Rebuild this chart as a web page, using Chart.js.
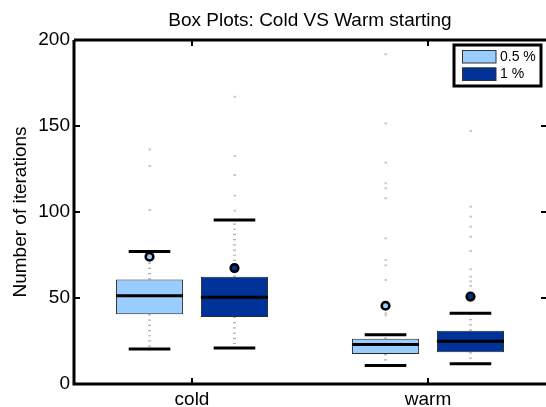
<!DOCTYPE html>
<html>
<head>
<meta charset="utf-8">
<script src="https://cdn.jsdelivr.net/npm/chart.js@4.4.1/dist/chart.umd.min.js"></script>
<style>
html,body{margin:0;padding:0;background:#fff;}
#wrap{width:546px;height:407px;position:relative;}
</style>
</head>
<body>
<div id="wrap"><canvas id="c" width="546" height="407"></canvas></div>
<script>
// ---- data ----
const categories = ['cold', 'warm'];
const seriesNames = ['0.5 %', '1 %'];
const yTicks = [0, 50, 100, 150, 200];

const q1_05 = [40.5, 17.4];
const q3_05 = [60.8, 26.3];
const median_05 = [51.3, 22.9];
const whiskerLow_05 = [20.3, 10.7];
const whiskerHigh_05 = [77.1, 28.7];
const circle_05 = [74.0, 45.5];
const outliers_05_cold = [136.4, 126.7, 101.2];
const outliers_05_warm = [191.7, 151.5, 128.7, 116.7, 113.8, 108.0, 84.7, 72.1, 69.0, 60.5, 41.1, 39.9];

const q1_1 = [39.0, 18.4];
const q3_1 = [62.4, 31.0];
const median_1 = [50.4, 24.8];
const whiskerLow_1 = [20.9, 11.8];
const whiskerHigh_1 = [95.3, 41.1];
const circle_1 = [67.4, 50.8];
const outliers_1_cold = [167.0, 132.6, 121.5, 109.5, 100.8];
const outliers_1_warm = [147.1, 103.1, 97.3, 91.5, 85.6, 77.3, 66.7, 62.4, 59.7, 57.0];

// ---- styles ----
const colors = ['#99ccff', '#003399'];
const FONT = '"Liberation Sans", Arial, Helvetica, sans-serif';

const stats = [
  {q1: q1_05, q3: q3_05, med: median_05, lo: whiskerLow_05, hi: whiskerHigh_05, circ: circle_05, out: [outliers_05_cold, outliers_05_warm]},
  {q1: q1_1, q3: q3_1, med: median_1, lo: whiskerLow_1, hi: whiskerHigh_1, circ: circle_1, out: [outliers_1_cold, outliers_1_warm]}
];

const boxPlugin = {
  id: 'boxExtras',
  beforeDatasetsDraw(chart) {
    const ctx = chart.ctx, y = chart.scales.y;
    ctx.save();
    stats.forEach((s, di) => {
      const meta = chart.getDatasetMeta(di);
      meta.data.forEach((bar, j) => {
        ctx.strokeStyle = '#b0b0b0';
        ctx.lineWidth = 3;
        ctx.setLineDash([1.2, 4]);
        ctx.beginPath();
        ctx.moveTo(bar.x, y.getPixelForValue(s.q3[j]));
        ctx.lineTo(bar.x, y.getPixelForValue(s.hi[j]));
        ctx.moveTo(bar.x, y.getPixelForValue(s.q1[j]));
        ctx.lineTo(bar.x, y.getPixelForValue(s.lo[j]));
        ctx.stroke();
      });
    });
    ctx.restore();
  },
  afterDatasetsDraw(chart) {
    const ctx = chart.ctx, y = chart.scales.y;
    ctx.save();
    stats.forEach((s, di) => {
      const meta = chart.getDatasetMeta(di);
      meta.data.forEach((bar, j) => {
        const w = bar.width;
        // outlier marks
        ctx.fillStyle = '#c8c8c8';
        s.out[j].forEach(v => {
          const py = y.getPixelForValue(v);
          ctx.fillRect(bar.x - 1, py - 1, 2.5, 2);
        });
        // median
        ctx.strokeStyle = '#000';
        ctx.lineWidth = 3;
        ctx.beginPath();
        const pm = y.getPixelForValue(s.med[j]);
        ctx.moveTo(bar.x - w / 2, pm);
        ctx.lineTo(bar.x + w / 2, pm);
        // caps
        const cw = w * 0.62;
        [s.lo[j], s.hi[j]].forEach(v => {
          const pv = y.getPixelForValue(v);
          ctx.moveTo(bar.x - cw / 2, pv);
          ctx.lineTo(bar.x + cw / 2, pv);
        });
        ctx.stroke();
        // circle marker
        ctx.beginPath();
        ctx.arc(bar.x, y.getPixelForValue(s.circ[j]), 3.8, 0, Math.PI * 2);
        ctx.fillStyle = colors[di];
        ctx.fill();
        ctx.lineWidth = 2.6;
        ctx.strokeStyle = '#000';
        ctx.stroke();
      });
    });
    ctx.restore();
  },
  afterDraw(chart) {
    const ctx = chart.ctx, y = chart.scales.y, x = chart.scales.x;
    const ca = chart.chartArea;
    ctx.save();
    // frame
    ctx.strokeStyle = '#000';
    ctx.lineWidth = 3;
    ctx.beginPath();
    ctx.moveTo(ca.left, ca.top);
    ctx.lineTo(ca.left, ca.bottom);
    ctx.lineTo(ca.right + 2, ca.bottom);
    ctx.moveTo(ca.left, ca.top);
    ctx.lineTo(ca.right + 2, ca.top);
    ctx.stroke();
    // ticks inward
    ctx.lineWidth = 2;
    ctx.beginPath();
    yTicks.forEach(v => {
      const py = y.getPixelForValue(v);
      ctx.moveTo(ca.left, py); ctx.lineTo(ca.left + 6, py);
      ctx.moveTo(ca.right + 1, py); ctx.lineTo(ca.right - 5, py);
    });
    categories.forEach((c, i) => {
      const px = x.getPixelForValue(i);
      ctx.moveTo(px, ca.bottom); ctx.lineTo(px, ca.bottom - 6);
      ctx.moveTo(px, ca.top); ctx.lineTo(px, ca.top + 6);
    });
    ctx.stroke();
    // legend
    const lx = 454, ly = 45, lw = 87, lh = 41;
    ctx.fillStyle = '#fff';
    ctx.fillRect(lx, ly, lw, lh);
    ctx.lineWidth = 3;
    ctx.strokeStyle = '#000';
    ctx.strokeRect(lx, ly, lw, lh);
    ctx.font = '14px ' + FONT;
    ctx.textBaseline = 'middle';
    ctx.textAlign = 'left';
    seriesNames.forEach((name, i) => {
      const sy = 50 + i * 17.5;
      ctx.fillStyle = colors[i];
      ctx.fillRect(462, sy, 34, 13);
      ctx.lineWidth = 1;
      ctx.strokeStyle = '#333';
      ctx.strokeRect(462.5, sy + 0.5, 33.5, 12.5);
      ctx.fillStyle = '#000';
      ctx.fillText(name, 500, sy + 7);
    });
    ctx.restore();
  }
};

new Chart(document.getElementById('c'), {
  type: 'bar',
  data: {
    labels: categories,
    datasets: [
      {label: seriesNames[0], data: categories.map((c, i) => [q1_05[i], q3_05[i]]),
       backgroundColor: colors[0], borderColor: '#2a2a2a', borderWidth: 1, borderSkipped: false,
       categoryPercentage: 0.72, barPercentage: 0.79},
      {label: seriesNames[1], data: categories.map((c, i) => [q1_1[i], q3_1[i]]),
       backgroundColor: colors[1], borderColor: '#2a2a2a', borderWidth: 1, borderSkipped: false,
       categoryPercentage: 0.72, barPercentage: 0.79}
    ]
  },
  options: {
    responsive: false,
    animation: false,
    layout: {padding: {left: 0, right: 0, top: 0, bottom: 0}},
    plugins: {
      legend: {display: false},
      tooltip: {enabled: false},
      title: {display: true, fullSize: false, text: 'Box Plots: Cold VS Warm starting', color: '#000',
              font: {family: FONT, size: 19, weight: 'normal'}, padding: {top: 9, bottom: 8.2}}
    },
    scales: {
      x: {
        type: 'category',
        grid: {display: false, drawTicks: false},
        border: {display: false},
        ticks: {color: '#000', font: {family: FONT, size: 19}, padding: 4},
        afterFit(s) { s.height = 23; }
      },
      y: {
        min: 0, max: 200,
        grid: {display: false, drawTicks: false},
        border: {display: false},
        ticks: {color: '#000', font: {family: FONT, size: 19}, padding: 4, stepSize: 50,
                callback: (v) => yTicks.includes(v) ? String(v) : ''},
        title: {display: true, text: 'Number of iterations', color: '#000',
                font: {family: FONT, size: 19}, padding: {top: 9.3, bottom: 0}},
        afterFit(s) { s.width = 74; }
      }
    }
  },
  plugins: [boxPlugin]
});
</script>
</body>
</html>
